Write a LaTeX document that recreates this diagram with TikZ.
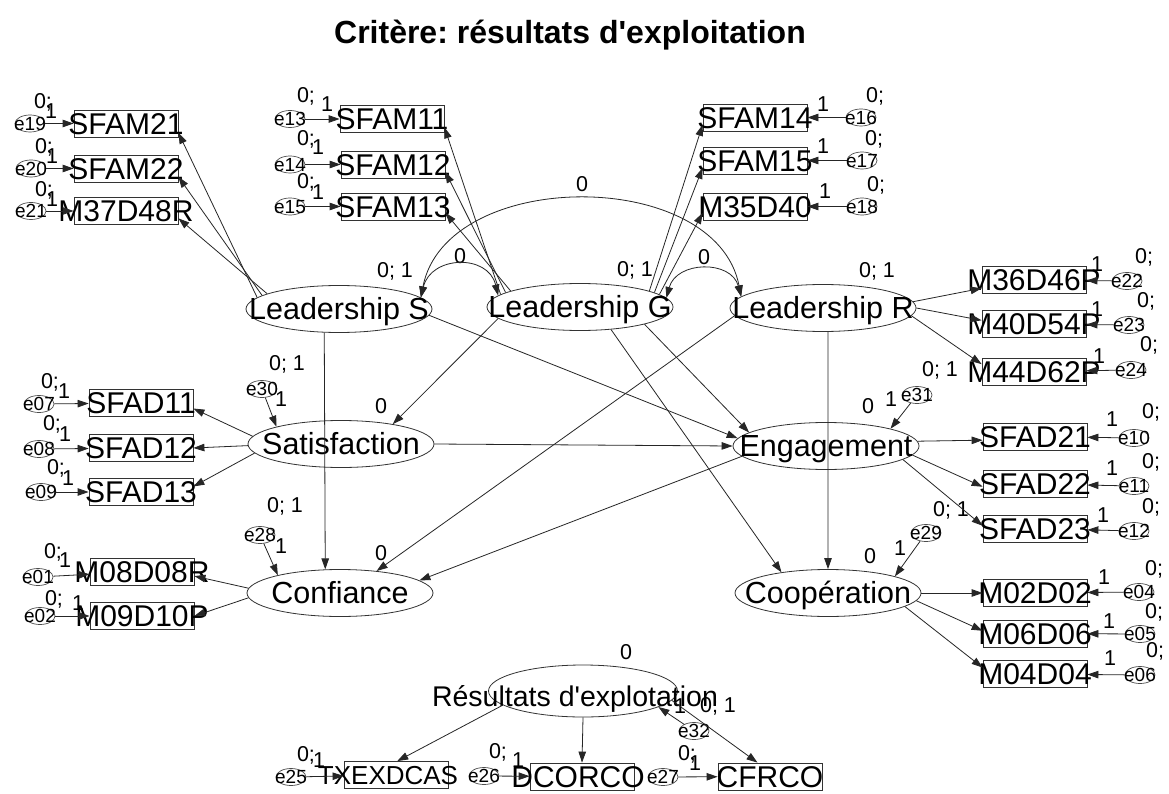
\documentclass[tikz,border=0pt]{standalone}
\usepackage{fontspec}
\setmainfont{Liberation Sans}
\usetikzlibrary{arrows.meta,shapes.geometric}
\frenchspacing
% zero-size centred label, so that text may overflow its frame
\newcommand\ctr[2][-0.36em]{\makebox[0pt]{\smash{\raisebox{#1}{#2}}}}
\begin{document}
\begin{tikzpicture}[x=1pt,y=-1pt,
  >={Triangle[length=11pt,width=7.5pt]},
  lnk/.style={draw=black!85,line width=0.8pt,->},
  cov/.style={draw=black!85,line width=0.8pt,<->},
  obs/.style={draw=black!80,line width=0.8pt,rectangle,minimum width=104pt,minimum height=27pt,inner sep=0pt,font=\fontsize{30}{30}\selectfont},
  lat/.style={draw=black!80,line width=0.8pt,ellipse,minimum width=186pt,minimum height=47pt,inner sep=0pt,font=\fontsize{30.5}{30.5}\selectfont},
  err/.style={draw=black!70,line width=0.7pt,ellipse,minimum width=30pt,minimum height=17pt,inner sep=0pt,font=\fontsize{19}{19}\selectfont},
  par/.style={inner sep=0pt,font=\fontsize{21.5}{21.5}\selectfont}]
\fill[white] (0,0) rectangle (1169,794);
\useasboundingbox (0,0) rectangle (1169,794);

% title
\node[font=\bfseries\fontsize{32}{32}\selectfont] (title) at (570,35) {Critère: résultats d\textquotesingle exploitation};

% latent variables
\node[lat] (LS) at (339,309) {\ctr{Leadership S}};
\node[lat] (LG) at (580,307) {\ctr{Leadership G}};
\node[lat] (LR) at (823,308) {\ctr{Leadership R}};
\node[lat] (SAT) at (341,444) {\ctr{Satisfaction}};
\node[lat] (ENG) at (826,446) {\ctr{Engagement}};
\node[lat] (CONF) at (340,593) {\ctr{Confiance}};
\node[lat] (COOP) at (828,593) {\ctr{Coopération}};
\node[lat,minimum width=189pt,minimum height=52pt,font=\fontsize{28.5}{28.5}\selectfont] (RES) at (583,691) {\ctr[-0.55em]{\hspace*{-16pt}Résultats d\textquotesingle explotation}};

% observed variables
\node[obs] (SFAM21) at (126,123.5) {\ctr{SFAM21}};
\node[obs] (SFAM22) at (126,168.5) {\ctr{SFAM22}};
\node[obs] (M37D48R) at (126,211) {\ctr{M37D48R}};
\node[obs] (SFAM11) at (392,119) {\ctr{SFAM11}};
\node[obs] (SFAM12) at (393,164.5) {\ctr{SFAM12}};
\node[obs] (SFAM13) at (393,206.5) {\ctr{SFAM13}};
\node[obs] (SFAM14) at (755,117.5) {\ctr{SFAM14}};
\node[obs] (SFAM15) at (755,160.5) {\ctr{SFAM15}};
\node[obs] (M35D40) at (755,206.5) {\ctr{M35D40}};
\node[obs] (M36D46P) at (1034,280) {\ctr{M36D46P}};
\node[obs] (M40D54P) at (1034,324) {\ctr{M40D54P}};
\node[obs] (M44D62P) at (1034,371.5) {\ctr{M44D62P}};
\node[obs] (SFAD11) at (141,403) {\ctr{SFAD11}};
\node[obs] (SFAD12) at (141,448) {\ctr{SFAD12}};
\node[obs] (SFAD13) at (141,492) {\ctr{SFAD13}};
\node[obs] (SFAD21) at (1035,436.5) {\ctr{SFAD21}};
\node[obs] (SFAD22) at (1035,484) {\ctr{SFAD22}};
\node[obs] (SFAD23) at (1035,528.5) {\ctr{SFAD23}};
\node[obs] (M08D08R) at (142,571.5) {\ctr{M08D08R}};
\node[obs] (M09D10P) at (142,616) {\ctr{M09D10P}};
\node[obs] (M02D02) at (1035,593) {\ctr{M02D02}};
\node[obs] (M06D06) at (1035,633.5) {\ctr{M06D06}};
\node[obs] (M04D04) at (1035,674) {\ctr{M04D04}};
\node[obs,font=\fontsize{26}{26}\selectfont] (TXEXDCAS) at (396,775) {\ctr{\hspace*{-16pt}TXEXDCAS}};
\node[obs] (DCORCO) at (582,776.5) {\ctr{\hspace*{-8pt}DCORCO}};
\node[obs] (CFRCO) at (770,776.5) {\ctr{CFRCO}};

% error terms
\node[err] (e19) at (30,123.5) {\ctr{e19}};
\node[err] (e20) at (31,168.5) {\ctr{e20}};
\node[err] (e21) at (31,211) {\ctr{e21}};
\node[err] (e13) at (290,119) {\ctr{e13}};
\node[err] (e14) at (290,164.5) {\ctr{e14}};
\node[err] (e15) at (290,206.5) {\ctr{e15}};
\node[err] (e16) at (861,117.5) {\ctr{e16}};
\node[err] (e17) at (862,160.5) {\ctr{e17}};
\node[err] (e18) at (862,206.5) {\ctr{e18}};
\node[err] (e22) at (1127,281) {\ctr{e22}};
\node[err] (e23) at (1129,325) {\ctr{e23}};
\node[err] (e24) at (1131,370) {\ctr{e24}};
\node[err] (e07) at (39,404) {\ctr{e07}};
\node[err] (e08) at (39,449) {\ctr{e08}};
\node[err] (e09) at (41,492) {\ctr{e09}};
\node[err] (e10) at (1134,438) {\ctr{e10}};
\node[err] (e11) at (1134,486) {\ctr{e11}};
\node[err] (e12) at (1134,531) {\ctr{e12}};
\node[err] (e01) at (38,577) {\ctr{e01}};
\node[err] (e02) at (40,616) {\ctr{e02}};
\node[err] (e04) at (1139,592) {\ctr{e04}};
\node[err] (e05) at (1140,634) {\ctr{e05}};
\node[err] (e06) at (1140,675) {\ctr{e06}};
\node[err] (e30) at (262,389) {\ctr{e30}};
\node[err] (e31) at (917,395) {\ctr{e31}};
\node[err] (e28) at (260,535) {\ctr{e28}};
\node[err] (e29) at (926,533) {\ctr{e29}};
\node[err] (e32) at (694,731) {\ctr{e32}};
\node[err] (e25) at (291,777) {\ctr{e25}};
\node[err] (e26) at (484,776) {\ctr{e26}};
\node[err] (e27) at (663,777) {\ctr{e27}};

% parameter labels
\node[par] (v19) at (43,102) {0;};   \node[par] (w19) at (51,111) {1};
\node[par] (v20) at (44,147) {0;};   \node[par] (w20) at (52,156) {1};
\node[par] (v21) at (44,190) {0;};   \node[par] (w21) at (52,199) {1};
\node[par] (v13) at (306,96) {0;};   \node[par] (w13) at (327,104) {1};
\node[par] (v14) at (306,139) {0;};  \node[par] (w14) at (318,147) {1};
\node[par] (v15) at (306,182) {0;};  \node[par] (w15) at (318,192) {1};
\node[par] (v16) at (875,96) {0;};   \node[par] (w16) at (823,104) {1};
\node[par] (v17) at (874,139) {0;};  \node[par] (w17) at (823,146) {1};
\node[par] (v18) at (876,185) {0;};  \node[par] (w18) at (825,191) {1};
\node[par] (v22) at (1144,257) {0;}; \node[par] (w22) at (1097,264) {1};
\node[par] (v23) at (1146,301) {0;}; \node[par] (w23) at (1097,309) {1};
\node[par] (v24) at (1149,345) {0;}; \node[par] (w24) at (1099,356) {1};
\node[par] (v07) at (50,382) {0;};   \node[par] (w07) at (64,391) {1};
\node[par] (v08) at (52,424) {0;};   \node[par] (w08) at (65,434) {1};
\node[par] (v09) at (56,468) {0;};   \node[par] (w09) at (68,478) {1};
\node[par] (v10) at (1151,412) {0;}; \node[par] (w10) at (1112,419) {1};
\node[par] (v11) at (1151,462) {0;}; \node[par] (w11) at (1112,468) {1};
\node[par] (v12) at (1151,507) {0;}; \node[par] (w12) at (1103,515) {1};
\node[par] (v01) at (53,552) {0;};   \node[par] (w01) at (65,560) {1};
\node[par] (v02) at (54,599) {0;};   \node[par] (w02) at (78,603) {1};
\node[par] (v04) at (1154,569) {0;}; \node[par] (w04) at (1104,577) {1};
\node[par] (v05) at (1154,612) {0;}; \node[par] (w05) at (1109,621) {1};
\node[par] (v06) at (1155,651) {0;}; \node[par] (w06) at (1110,658) {1};
\node[par] (v25) at (306,755) {0;};  \node[par] (w25) at (319,760) {1};
\node[par] (v26) at (498,752) {0;};  \node[par] (w26) at (518,760) {1};
\node[par] (v27) at (687,754) {0;};  \node[par] (w27) at (695,763) {1};
\node[par] (v30) at (287,364) {0; 1}; \node[par] (w30) at (281,399) {1};
\node[par] (v31) at (940,370) {0; 1}; \node[par] (w31) at (891,399) {1};
\node[par] (v28) at (285,506) {0; 1}; \node[par] (w28) at (281,546) {1};
\node[par] (v29) at (951,510) {0; 1}; \node[par] (w29) at (900,548) {1};
\node[par] (v32) at (718,706) {0; 1}; \node[par] (w32) at (680,706) {1};
\node[par] (mLS) at (395,271) {0; 1};
\node[par] (mLG) at (635,270) {0; 1};
\node[par] (mLR) at (877,271) {0; 1};
\node[par] (mSAT) at (381,406) {0};
\node[par] (mENG) at (868,406) {0};
\node[par] (mCONF) at (381,553) {0};
\node[par] (mCOOP) at (870,556) {0};
\node[par] (mRES) at (626,652) {0};
\node[par] (cSG) at (460,256) {0};
\node[par] (cSR) at (582,184) {0};
\node[par] (cGR) at (704,257) {0};

% covariances among the leadership factors
\draw[cov] (LS.8) .. controls +(10,-42) and +(-10,-42) .. (LG.172);
\draw[cov] (LS.8) .. controls +(25,-130) and +(-25,-130) .. (LR.172);
\draw[cov] (LG.6) .. controls +(10,-37) and +(-10,-37) .. (LR.172);

% measurement paths
\draw[lnk] (LS.172) -- (SFAM21.-10);
\draw[lnk] (LS.170) -- (SFAM22.-9);
\draw[lnk] (LS.168) -- (M37D48R.-8);
\draw[lnk] (LG.171) -- (SFAM11.-9);
\draw[lnk] (LG.169) -- (SFAM12.-8);
\draw[lnk] (LG.167) -- (SFAM13.-7);
\draw[lnk] (LG.13) -- (SFAM14.188);
\draw[lnk] (LG.11) -- (SFAM15.188);
\draw[lnk] (LG.9) -- (M35D40.187);
\draw[lnk] (LR.4) -- (M36D46P.189);
\draw[lnk] (LR.0) -- (M40D54P.176);
\draw[lnk] (LR.-5) -- (M44D62P.172);
\draw[lnk] (SAT.175) -- (SFAD11.-6);
\draw[lnk] (SAT.181) -- (SFAD12.east);
\draw[lnk] (SAT.186) -- (SFAD13.6);
\draw[lnk] (ENG.3) -- (SFAD21.184);
\draw[lnk] (ENG.-6) -- (SFAD22.183);
\draw[lnk] (ENG.-10) -- (SFAD23.177);
\draw[lnk] (CONF.177) -- (M08D08R.-5);
\draw[lnk] (CONF.183) -- (M09D10P.east);
\draw[lnk] (COOP.east) -- (M02D02.west);
\draw[lnk] (COOP.-5) -- (M06D06.177);
\draw[lnk] (COOP.-10) -- (M04D04.173);
\draw[lnk] (RES.190) -- (TXEXDCAS.85);
\draw[lnk] (RES.south) -- (DCORCO.north);
\draw[lnk] (RES.-6) -- (CFRCO.132);

% structural paths
\draw[lnk] (LG.188) -- (SAT.21);
\draw[lnk] (LS.238) -- (CONF.122);
\draw[lnk] (LS.-4) -- (ENG.175);
\draw[lnk] (LG.-15) -- (ENG.170);
\draw[lnk] (LG.-36) -- (COOP.156);
\draw[lnk] (LR.185) -- (CONF.31);
\draw[lnk] (LR.282) -- (COOP.north);
\draw[lnk] (SAT.east) -- (ENG.west);
\draw[lnk] (ENG.187) -- (CONF.9);

% error paths
\draw[lnk] (e19) -- (SFAM21);
\draw[lnk] (e20) -- (SFAM22);
\draw[lnk] (e21) -- (M37D48R);
\draw[lnk] (e13) -- (SFAM11);
\draw[lnk] (e14) -- (SFAM12);
\draw[lnk] (e15) -- (SFAM13);
\draw[lnk] (e16) -- (SFAM14);
\draw[lnk] (e17) -- (SFAM15);
\draw[lnk] (e18) -- (M35D40);
\draw[lnk] (e22) -- (M36D46P);
\draw[lnk] (e23) -- (M40D54P);
\draw[lnk] (e24) -- (M44D62P);
\draw[lnk] (e07) -- (SFAD11);
\draw[lnk] (e08) -- (SFAD12);
\draw[lnk] (e09) -- (SFAD13);
\draw[lnk] (e10) -- (SFAD21);
\draw[lnk] (e11) -- (SFAD22);
\draw[lnk] (e12) -- (SFAD23);
\draw[lnk] (e01) -- (M08D08R);
\draw[lnk] (e02) -- (M09D10P);
\draw[lnk] (e04) -- (M02D02);
\draw[lnk] (e05) -- (M06D06);
\draw[lnk] (e06) -- (M04D04);
\draw[lnk] (e25) -- (TXEXDCAS);
\draw[lnk] (e26) -- (DCORCO);
\draw[lnk] (e27) -- (CFRCO);
\draw[lnk] (e30) -- (SAT.165);
\draw[lnk] (e31) -- (ENG.15);
\draw[lnk] (e28) -- (CONF.164);
\draw[lnk] (e29) -- (COOP.14);
\draw[lnk] (e32) -- (RES.-12);
\end{tikzpicture}
\end{document}
